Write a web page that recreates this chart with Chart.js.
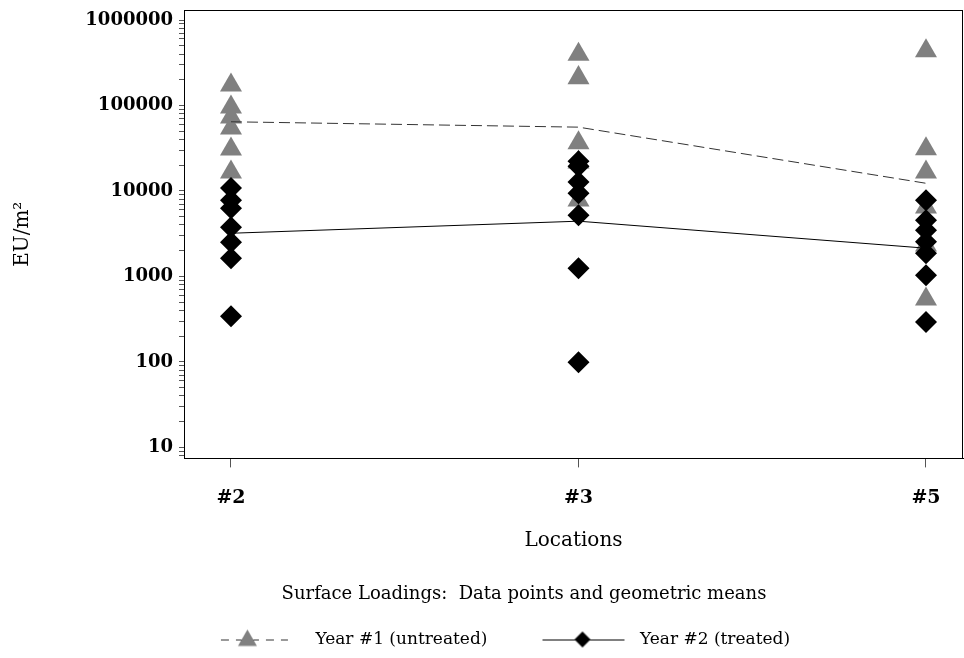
<!DOCTYPE html>
<html>
<head>
<meta charset="utf-8">
<script src="https://cdn.jsdelivr.net/npm/chart.js@4/dist/chart.umd.min.js"></script>
<style>
  html, body { margin: 0; padding: 0; background: #fff; }
  #wrap { width: 964px; height: 658px; }
</style>
</head>
<body>
<div id="wrap"><canvas id="chart"></canvas></div>
<script>
// location categories, placed at x = 1, 2, 3
const locationLabels = ["#2", "#3", "#5"];

// Year #1 (untreated) data points, EU/m2
const year1Loc2 = [173000, 95700, 73000, 54300, 30800, 16600];
const year1Loc3 = [395000, 211000, 36500, 21700, 7800];
const year1Loc5 = [434000, 31100, 16600, 6460, 2320, 541];

// Year #2 (treated) data points, EU/m2
const year2Loc2 = [10800, 7800, 6290, 3770, 2510, 1630, 342];
const year2Loc3 = [22300, 19500, 12700, 9420, 5210, 1250, 99];
const year2Loc5 = [7800, 4550, 3480, 2540, 1870, 1030, 293];

// geometric means per location
const year1Means = [64500, 55800, 12300];
const year2Means = [3200, 4430, 2140];

const serif = "'DejaVu Serif', 'Liberation Serif', serif";

function toPoints(groups) {
  const pts = [];
  groups.forEach((vals, i) => vals.forEach(v => pts.push({x: i + 1, y: v})));
  return pts;
}
function meanPoints(vals) {
  return vals.map((v, i) => ({x: i + 1, y: v}));
}

// legend glyphs: line + marker
function legendIcon(dashed) {
  const c = document.createElement("canvas");
  c.width = 134; c.height = 26;
  const g = c.getContext("2d");
  g.strokeStyle = dashed ? "#333" : "#000";
  g.lineWidth = 1;
  g.setLineDash(dashed ? [8, 7] : []);
  g.beginPath();
  if (dashed) { g.moveTo(48, 13.5); g.lineTo(115, 13.5); }
  else { g.moveTo(45, 13.5); g.lineTo(127, 13.5); }
  g.stroke();
  g.setLineDash([]);
  g.beginPath();
  if (dashed) {
    g.fillStyle = "#808080";
    g.moveTo(74.5, 3); g.lineTo(84, 19.5); g.lineTo(65, 19.5);
  } else {
    g.fillStyle = "#000";
    g.moveTo(85, 5); g.lineTo(93, 13); g.lineTo(85, 21); g.lineTo(77, 13);
  }
  g.closePath();
  g.fill();
  return c;
}

const framePlugin = {
  id: "frame",
  afterLayout(chart) {
    // title sits centred a little right of the canvas centre
    if (chart.titleBlock) { chart.titleBlock.left = 84; chart.titleBlock.right = 964; }
  },
  afterDraw(chart) {
    const a = chart.chartArea, ctx = chart.ctx;
    ctx.save();
    ctx.strokeStyle = "#000";
    ctx.lineWidth = 1;
    ctx.strokeRect(Math.round(a.left) + 0.5, Math.round(a.top) + 0.5,
      Math.round(a.right - a.left) - 1, Math.round(a.bottom - a.top));
    ctx.restore();
  }
};

new Chart(document.getElementById("chart").getContext("2d"), {
  type: "scatter",
  data: {
    datasets: [
      {
        type: "line", label: "Year #1 mean", data: meanPoints(year1Means),
        borderColor: "#333", borderWidth: 1, borderDash: [11, 5],
        pointRadius: 0, fill: false, order: 0
      },
      {
        type: "line", label: "Year #2 mean", data: meanPoints(year2Means),
        borderColor: "#000", borderWidth: 1,
        pointRadius: 0, fill: false, order: 0
      },
      {
        label: "Year #2 (treated)", data: toPoints([year2Loc2, year2Loc3, year2Loc5]),
        pointStyle: "rectRot", pointRadius: 11, borderWidth: 0,
        backgroundColor: "#000", borderColor: "#000", order: 1
      },
      {
        label: "Year #1 (untreated)", data: toPoints([year1Loc2, year1Loc3, year1Loc5]),
        pointStyle: "triangle", pointRadius: 12.7, borderWidth: 0,
        backgroundColor: "#808080", borderColor: "#808080", order: 2
      }
    ]
  },
  options: {
    responsive: true,
    maintainAspectRatio: false,
    animation: false,
    layout: { autoPadding: false, padding: { left: 0, right: 1, top: 10, bottom: 0 } },
    plugins: {
      tooltip: { enabled: false },
      title: {
        display: true, position: "bottom", weight: 2000,
        text: "Surface Loadings:  Data points and geometric means",
        color: "#000", font: { family: serif, size: 18, weight: "normal" },
        padding: { top: 11, bottom: 16 }
      },
      legend: {
        position: "bottom", weight: 3000,
        labels: {
          usePointStyle: true, pointStyleWidth: 134, padding: 10,
          color: "#000", font: { family: serif, size: 17 },
          generateLabels: () => [
            { text: "Year #1 (untreated)", pointStyle: legendIcon(true),
              fillStyle: "#808080", strokeStyle: "#808080", lineWidth: 0, datasetIndex: 3 },
            { text: "Year #2 (treated)", pointStyle: legendIcon(false),
              fillStyle: "#000", strokeStyle: "#000", lineWidth: 0, datasetIndex: 2 }
          ]
        }
      }
    },
    scales: {
      x: {
        type: "linear", min: 0.8648, max: 3.1065,
        afterBuildTicks: s => { s.ticks = locationLabels.map((_, i) => ({value: i + 1})); },
        afterFit: s => { s.height = 114; s.paddingLeft = 0; s.paddingRight = 0; },
        ticks: {
          color: "#000", padding: 19,
          font: { family: serif, size: 19, weight: "bold" },
          callback: v => locationLabels[v - 1]
        },
        grid: { drawOnChartArea: false, tickLength: 9, tickColor: "#555" },
        border: { display: true, color: "#000", width: 1 },
        title: {
          display: true, text: "Locations", color: "#000",
          font: { family: serif, size: 20 }, padding: { top: 20, bottom: 20 }
        }
      },
      y: {
        type: "logarithmic", min: 7.43, max: 1310000,
        afterBuildTicks: s => {
          s.ticks = s.ticks.filter(t => {
            const m = t.value / Math.pow(10, Math.floor(Math.log10(t.value) + 1e-9));
            return Math.abs(m - Math.round(m)) < 1e-6;
          });
        },
        afterFit: s => { s.width = 184; s.paddingTop = 0; s.paddingBottom = 0; },
        ticks: {
          color: "#000", padding: 6, autoSkip: false,
          font: { family: serif, size: 18, weight: "bold" },
          callback: v => {
            const l = Math.log10(v);
            return Math.abs(l - Math.round(l)) < 1e-9 ? String(Math.round(v)) : "";
          }
        },
        grid: { drawOnChartArea: false, tickLength: 5, tickColor: "#555" },
        border: { display: true, color: "#000", width: 1 },
        title: {
          display: true, text: "EU/m²", color: "#000",
          font: { family: serif, size: 20 }, padding: { top: 11, bottom: 11 }
        }
      }
    }
  },
  plugins: [framePlugin]
});
</script>
</body>
</html>
